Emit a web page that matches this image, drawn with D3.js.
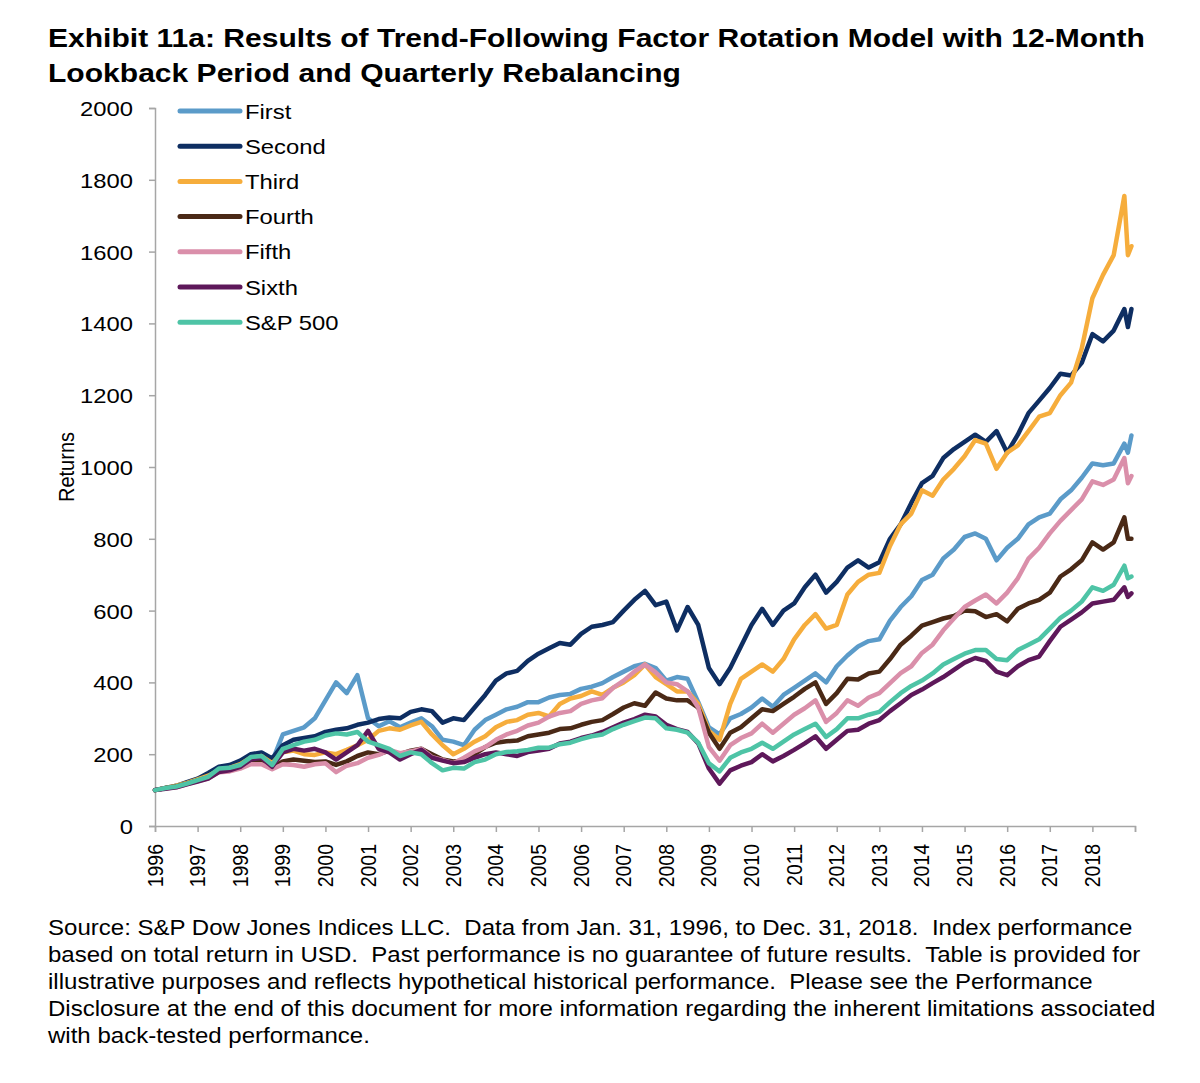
<!DOCTYPE html>
<html>
<head>
<meta charset="utf-8">
<script src="https://cdn.jsdelivr.net/npm/d3@7"></script>
<style>
  html, body { margin: 0; padding: 0; background: #fff; }
  svg { display: block; font-family: "Liberation Sans", Arial, sans-serif; }
  text { white-space: pre; }
</style>
</head>
<body>
<svg id="chart" width="1200" height="1083"></svg>
<script>
// ---------- DATA ----------
const seriesNames = ["First", "Second", "Third", "Fourth", "Fifth", "Sixth", "S&P 500"];
const seriesColors = ["#5B9BC9", "#0E2E62", "#F6AD3C", "#4A2916", "#DA8FAA", "#5E185A", "#4EC4A6"];
const yTicks = [0, 200, 400, 600, 800, 1000, 1200, 1400, 1600, 1800, 2000];
const xTickYears = [1996, 1997, 1998, 1999, 2000, 2001, 2002, 2003, 2004, 2005, 2006, 2007,
                    2008, 2009, 2010, 2011, 2012, 2013, 2014, 2015, 2016, 2017, 2018];

// observation dates: quarterly Jan-1996 .. Oct-2018, then Nov-2018, Dec-2018
const dates = [];
for (let y = 1996; y <= 2018; y++) for (let q = 0; q < 4; q++) dates.push(y + q * 0.25);
dates.push(2018 + 10 / 12, 2018 + 11 / 12);

const first = [
  100,106,110,120, 130,142,158,165, 175,195,200,180, 255,265,275,300,
  350,400,370,420, 300,278,292,275, 288,300,278,240, 235,225,268,295,
  310,325,332,345, 345,358,365,368, 382,388,398,415, 430,445,452,440,
  405,415,410,345, 275,255,300,312, 330,355,332,365, 385,405,425,400,
  445,475,500,515, 520,572,610,640, 685,700,745,770, 805,815,800,740,
  775,800,840,860, 870,910,935,970, 1010,1005,1010,1065, 1040,1088];
const second = [
  100,106,112,122, 132,148,165,170, 182,200,205,188, 225,240,245,250,
  262,268,272,282, 288,298,302,300, 318,325,320,288, 300,295,330,365,
  405,425,432,460, 480,495,510,505, 535,555,560,568, 600,630,655,615,
  625,545,610,560, 440,395,440,500, 560,605,560,600, 620,665,700,650,
  680,720,740,720, 735,800,840,900, 955,975,1025,1050, 1070,1090,1070,1100,
  1040,1090,1150,1185, 1220,1260,1255,1290, 1370,1350,1380,1440, 1390,1440];
const third = [
  100,106,112,120, 130,140,155,162, 172,190,195,175, 205,210,200,198,
  205,200,212,225, 240,265,272,268, 280,290,255,225, 200,215,235,250,
  275,290,295,310, 315,305,340,355, 362,375,365,385, 400,420,450,415,
  395,375,375,340, 265,240,340,410, 430,450,430,465, 520,560,590,550,
  560,645,680,700, 705,780,840,870, 935,920,965,995, 1030,1075,1065,995,
  1040,1060,1100,1140, 1150,1200,1235,1330, 1470,1535,1590,1755, 1590,1615];
const fourth = [
  100,106,110,118, 127,135,152,155, 162,178,180,160, 180,185,182,178,
  180,170,180,195, 205,200,210,200, 210,215,200,185, 180,182,200,220,
  232,236,238,250, 255,260,270,272, 282,290,295,312, 330,342,335,372,
  355,350,350,330, 260,215,260,275, 300,325,320,340, 360,382,400,340,
  370,410,408,425, 430,465,505,530, 558,568,578,585, 600,598,582,590,
  570,605,620,630, 650,695,715,740, 790,770,790,860, 800,800];
const fifth = [
  100,105,108,117, 125,133,150,152, 160,172,172,158, 172,170,165,172,
  175,150,168,175, 190,198,212,203, 208,215,192,184, 175,190,208,220,
  240,255,265,280, 288,305,315,320, 340,350,356,385, 405,430,450,428,
  400,395,375,330, 220,182,225,245, 258,285,260,285, 310,328,350,290,
  315,350,335,358, 370,398,426,445, 482,505,545,578, 610,628,645,620,
  650,690,745,775, 815,850,880,910, 960,950,965,1025, 955,975];
const sixth = [
  100,104,108,116, 124,132,150,155, 165,185,190,165, 205,215,210,215,
  205,185,205,225, 265,215,205,185, 200,212,190,182, 175,178,190,200,
  205,200,195,206, 210,215,230,235, 245,252,262,275, 288,298,310,305,
  282,270,262,230, 160,118,155,168, 178,200,180,195, 212,230,250,215,
  240,265,268,285, 295,320,342,365, 380,398,415,435, 455,468,460,430,
  420,445,462,472, 515,555,575,595, 620,625,630,665, 638,648];
const sp500 = [
  100,106,110,118, 128,137,160,162, 170,192,195,170, 215,225,235,240,
  252,258,255,262, 235,225,215,195, 205,200,175,155, 162,160,178,185,
  200,206,208,212, 218,218,228,232, 242,250,255,270, 282,292,302,300,
  272,268,260,232, 175,152,190,205, 215,232,215,235, 255,270,285,248,
  270,300,300,310, 318,345,370,390, 405,425,450,465, 480,490,490,465,
  462,490,505,520, 550,580,600,625, 665,655,672,725, 690,695];

const seriesValues = [first, second, third, fourth, fifth, sixth, sp500];

// ---------- TEXTS ----------
const titleLines = [
  "Exhibit 11a: Results of Trend-Following Factor Rotation Model with 12-Month",
  "Lookback Period and Quarterly Rebalancing"
];
const yAxisLabel = "Returns";
const footLines = [
  "Source: S&P Dow Jones Indices LLC.  Data from Jan. 31, 1996, to Dec. 31, 2018.  Index performance",
  "based on total return in USD.  Past performance is no guarantee of future results.  Table is provided for",
  "illustrative purposes and reflects hypothetical historical performance.  Please see the Performance",
  "Disclosure at the end of this document for more information regarding the inherent limitations associated",
  "with back-tested performance."
];

// ---------- LAYOUT ----------
const SX = 1.134;               // horizontal stretch of glyphs in the reference
const plot = { left: 155, right: 1135, top: 108, bottom: 826 };
const axisColor = "#A6A6A6";

const svg = d3.select("#chart");
const x = d3.scaleLinear().domain([1996, 2019]).range([plot.left, plot.right]);
const y = d3.scaleLinear().domain([0, 2000]).range([plot.bottom, plot.top]);

// Title
svg.selectAll("text.title").data(titleLines).join("text")
  .attr("class", "title")
  .attr("transform", (d, i) => `translate(48,${47 + i * 35}) scale(${SX},1)`)
  .attr("font-size", 26.5).attr("font-weight", "bold").attr("fill", "#000")
  .text(d => d);

// Y axis
const yAxis = d3.axisLeft(y).tickValues(yTicks).tickSize(6).tickPadding(0).tickFormat(d3.format("d"));
const gy = svg.append("g").attr("transform", `translate(${plot.left},0)`).call(yAxis);
gy.select(".domain").attr("stroke", axisColor).attr("stroke-width", 1.5);
gy.selectAll(".tick line").attr("stroke", axisColor).attr("stroke-width", 1.5);
gy.selectAll(".tick text")
  .attr("x", null).attr("dy", null)
  .attr("font-size", 21).attr("fill", "#000")
  .attr("font-family", "Liberation Sans, Arial, sans-serif")
  .attr("text-anchor", "end")
  .attr("transform", `translate(-22,7.5) scale(${SX},1)`);

// X axis
const xAxis = d3.axisBottom(x).tickValues(d3.range(1996, 2020)).tickSize(6).tickPadding(0)
  .tickFormat(d => xTickYears.includes(d) ? String(d) : "");
const gx = svg.append("g").attr("transform", `translate(0,${plot.bottom})`).call(xAxis);
gx.select(".domain").attr("stroke", axisColor).attr("stroke-width", 1.5);
gx.selectAll(".tick line").attr("stroke", axisColor).attr("stroke-width", 1.5);
gx.selectAll(".tick text")
  .attr("y", null).attr("dy", null)
  .attr("font-size", 19.5).attr("fill", "#000")
  .attr("font-family", "Liberation Sans, Arial, sans-serif")
  .attr("text-anchor", "end")
  .attr("transform", `translate(7,18) scale(${SX},1) rotate(-90)`);

// Y axis title
svg.append("text")
  .attr("transform", `translate(74,467) scale(${SX},1) rotate(-90)`)
  .attr("text-anchor", "middle").attr("font-size", 20).attr("fill", "#000")
  .text(yAxisLabel);

// Lines
const line = d3.line().x((d, i) => x(dates[i])).y(d => y(d)).curve(d3.curveLinear);
svg.append("g").selectAll("path").data(seriesValues).join("path")
  .attr("d", d => line(d))
  .attr("fill", "none")
  .attr("stroke", (d, i) => seriesColors[i])
  .attr("stroke-width", 4.5)
  .attr("stroke-linejoin", "round")
  .attr("stroke-linecap", "round");

// Legend
const legend = svg.append("g").selectAll("g").data(seriesNames).join("g")
  .attr("transform", (d, i) => `translate(180,${111 + i * 35.2})`);
legend.append("line").attr("x1", 0).attr("x2", 60).attr("y1", 0).attr("y2", 0)
  .attr("stroke", (d, i) => seriesColors[i]).attr("stroke-width", 5).attr("stroke-linecap", "round");
legend.append("text")
  .attr("transform", `translate(65,7.5) scale(${SX},1)`)
  .attr("font-size", 21).attr("fill", "#000").text(d => d);

// Footnote
svg.selectAll("text.foot").data(footLines).join("text")
  .attr("class", "foot")
  .attr("transform", (d, i) => `translate(48,${935 + i * 27}) scale(${SX},1)`)
  .attr("font-size", 21.2).attr("fill", "#000")
  .text(d => d);
</script>
</body>
</html>
